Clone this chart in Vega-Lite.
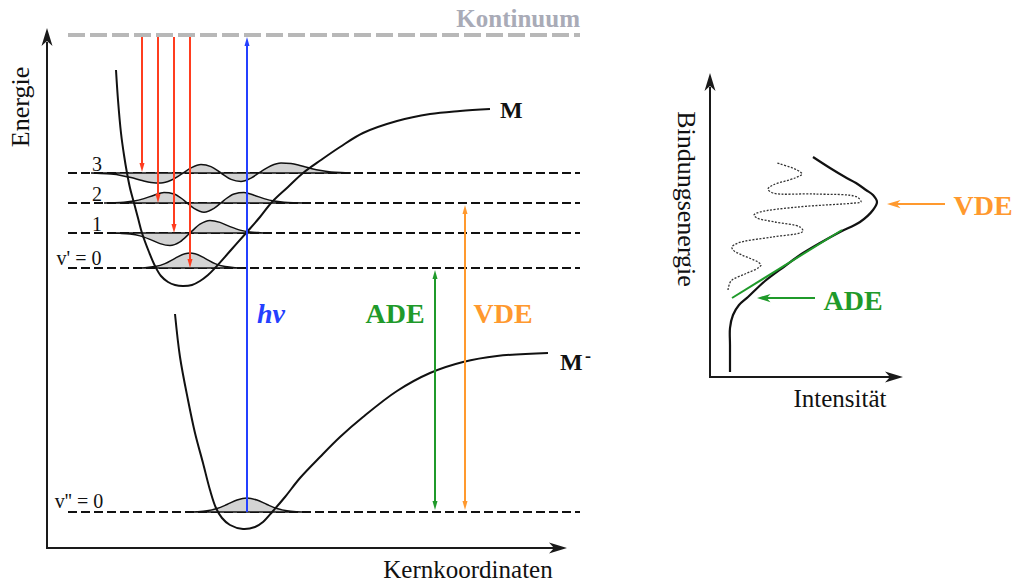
{
"$schema": "https://vega.github.io/schema/vega-lite/v6.json",
"width": 1015, "height": 585, "autosize": {"type": "none"}, "padding": 0,
"background": "white",
"config": {"view": {"stroke": null}},
"datasets": {
"kont": [{"x": 68, "x2": 580, "y": 35}],
"levels": [{"x": 68, "x2": 580, "y": 173}, {"x": 68, "x2": 580, "y": 203}, {"x": 68, "x2": 580, "y": 233}, {"x": 68, "x2": 580, "y": 268}, {"x": 68, "x2": 580, "y": 512}],
"waves": [
{"w":"a0","x":135,"y":268,"y0":268},{"w":"a0","x":145,"y":267.7,"y0":268},{"w":"a0","x":155,"y":266.6,"y0":268},{"w":"a0","x":165,"y":263.6,"y0":268},{"w":"a0","x":175,"y":258.3,"y0":268},{"w":"a0","x":185,"y":253.7,"y0":268},{"w":"a0","x":190,"y":253,"y0":268},{"w":"a0","x":195,"y":253.7,"y0":268},{"w":"a0","x":205,"y":258.3,"y0":268},{"w":"a0","x":215,"y":263.6,"y0":268},{"w":"a0","x":225,"y":266.6,"y0":268},{"w":"a0","x":235,"y":267.7,"y0":268},{"w":"a0","x":245,"y":268,"y0":268},
{"w":"a1","x":110,"y":233,"y0":233},{"w":"a1","x":120,"y":233.3,"y0":233},{"w":"a1","x":130,"y":234,"y0":233},{"w":"a1","x":140,"y":235.9,"y0":233},{"w":"a1","x":150,"y":239.4,"y0":233},{"w":"a1","x":160,"y":243.6,"y0":233},{"w":"a1","x":170,"y":245.5,"y0":233},{"w":"a1","x":180,"y":241.8,"y0":233},{"w":"a1","x":190,"y":233,"y0":233},{"w":"a1","x":200,"y":224.2,"y0":233},{"w":"a1","x":210,"y":220.5,"y0":233},{"w":"a1","x":220,"y":222.4,"y0":233},{"w":"a1","x":230,"y":226.6,"y0":233},{"w":"a1","x":240,"y":230.1,"y0":233},{"w":"a1","x":250,"y":232,"y0":233},{"w":"a1","x":260,"y":232.7,"y0":233},{"w":"a1","x":270,"y":233,"y0":233},
{"w":"a2","x":104,"y":203,"y0":203},{"w":"a2","x":114,"y":202.8,"y0":203},{"w":"a2","x":124,"y":202.3,"y0":203},{"w":"a2","x":134,"y":201.1,"y0":203},{"w":"a2","x":144,"y":198.6,"y0":203},{"w":"a2","x":154,"y":195.2,"y0":203},{"w":"a2","x":164,"y":192.6,"y0":203},{"w":"a2","x":174,"y":193.9,"y0":203},{"w":"a2","x":184,"y":200.3,"y0":203},{"w":"a2","x":194,"y":208.4,"y0":203},{"w":"a2","x":204,"y":212.2,"y0":203},{"w":"a2","x":214,"y":208.4,"y0":203},{"w":"a2","x":224,"y":200.3,"y0":203},{"w":"a2","x":234,"y":193.9,"y0":203},{"w":"a2","x":244,"y":192.6,"y0":203},{"w":"a2","x":254,"y":195.2,"y0":203},{"w":"a2","x":264,"y":198.6,"y0":203},{"w":"a2","x":274,"y":201.1,"y0":203},{"w":"a2","x":284,"y":202.3,"y0":203},{"w":"a2","x":294,"y":202.8,"y0":203},{"w":"a2","x":304,"y":203,"y0":203},
{"w":"a3","x":91,"y":173,"y0":173},{"w":"a3","x":101,"y":173.4,"y0":173},{"w":"a3","x":111,"y":174.1,"y0":173},{"w":"a3","x":121,"y":175.4,"y0":173},{"w":"a3","x":131,"y":177.5,"y0":173},{"w":"a3","x":141,"y":180.2,"y0":173},{"w":"a3","x":151,"y":182.5,"y0":173},{"w":"a3","x":161,"y":183,"y0":173},{"w":"a3","x":171,"y":180.3,"y0":173},{"w":"a3","x":181,"y":174.4,"y0":173},{"w":"a3","x":191,"y":167.9,"y0":173},{"w":"a3","x":201,"y":164.5,"y0":173},{"w":"a3","x":211,"y":166.6,"y0":173},{"w":"a3","x":221,"y":173,"y0":173},{"w":"a3","x":231,"y":179.4,"y0":173},{"w":"a3","x":241,"y":181.5,"y0":173},{"w":"a3","x":251,"y":178.1,"y0":173},{"w":"a3","x":261,"y":171.6,"y0":173},{"w":"a3","x":271,"y":165.7,"y0":173},{"w":"a3","x":281,"y":163,"y0":173},{"w":"a3","x":291,"y":163.5,"y0":173},{"w":"a3","x":301,"y":165.8,"y0":173},{"w":"a3","x":311,"y":168.5,"y0":173},{"w":"a3","x":321,"y":170.6,"y0":173},{"w":"a3","x":331,"y":171.9,"y0":173},{"w":"a3","x":341,"y":172.6,"y0":173},{"w":"a3","x":351,"y":173,"y0":173},
{"w":"b0","x":187,"y":512,"y0":512},{"w":"b0","x":197,"y":511.7,"y0":512},{"w":"b0","x":207,"y":510.8,"y0":512},{"w":"b0","x":217,"y":508.5,"y0":512},{"w":"b0","x":227,"y":504.5,"y0":512},{"w":"b0","x":237,"y":500,"y0":512},{"w":"b0","x":247,"y":498,"y0":512},{"w":"b0","x":257,"y":500,"y0":512},{"w":"b0","x":267,"y":504.5,"y0":512},{"w":"b0","x":277,"y":508.5,"y0":512},{"w":"b0","x":287,"y":510.8,"y0":512},{"w":"b0","x":297,"y":511.7,"y0":512},{"w":"b0","x":307,"y":512,"y0":512}
],
"pot": [
{"c":"M","x":116,"y":70},{"c":"M","x":118,"y":100},{"c":"M","x":121,"y":133},{"c":"M","x":124,"y":155},{"c":"M","x":127,"y":173},{"c":"M","x":130,"y":188},{"c":"M","x":134,"y":203},{"c":"M","x":138,"y":218},{"c":"M","x":142,"y":233},{"c":"M","x":149,"y":252},{"c":"M","x":155,"y":266},{"c":"M","x":161,"y":276},{"c":"M","x":168,"y":282},{"c":"M","x":175,"y":285},{"c":"M","x":183,"y":286},{"c":"M","x":192,"y":285},{"c":"M","x":200,"y":281},{"c":"M","x":208,"y":275},{"c":"M","x":215,"y":268},{"c":"M","x":231,"y":250},{"c":"M","x":247,"y":232},{"c":"M","x":260,"y":217},{"c":"M","x":272,"y":202},{"c":"M","x":288,"y":187},{"c":"M","x":303,"y":173},{"c":"M","x":321,"y":160},{"c":"M","x":340,"y":147},{"c":"M","x":363,"y":133},{"c":"M","x":397,"y":121},{"c":"M","x":430,"y":114},{"c":"M","x":460,"y":111},{"c":"M","x":490,"y":109},
{"c":"Mm","x":175,"y":314},{"c":"Mm","x":180,"y":357},{"c":"Mm","x":188,"y":400},{"c":"Mm","x":195,"y":433},{"c":"Mm","x":203,"y":463},{"c":"Mm","x":210,"y":490},{"c":"Mm","x":216,"y":508},{"c":"Mm","x":222,"y":518},{"c":"Mm","x":230,"y":525},{"c":"Mm","x":243,"y":529},{"c":"Mm","x":255,"y":527},{"c":"Mm","x":263,"y":522},{"c":"Mm","x":273,"y":511},{"c":"Mm","x":285,"y":497},{"c":"Mm","x":300,"y":478},{"c":"Mm","x":320,"y":457},{"c":"Mm","x":340,"y":437},{"c":"Mm","x":363,"y":417},{"c":"Mm","x":397,"y":391},{"c":"Mm","x":430,"y":373},{"c":"Mm","x":463,"y":362},{"c":"Mm","x":497,"y":356},{"c":"Mm","x":548,"y":353}
],
"env": [{"x":730,"y":372},{"x":730,"y":345},{"x":730,"y":328},{"x":733,"y":315},{"x":739,"y":305},{"x":748,"y":297},{"x":765,"y":281},{"x":785,"y":266},{"x":800,"y":255},{"x":820,"y":243},{"x":840,"y":232},{"x":860,"y":222},{"x":873,"y":210},{"x":877,"y":202},{"x":873,"y":195},{"x":866,"y":190},{"x":856,"y":183},{"x":845,"y":177},{"x":830,"y":168},{"x":813,"y":157}],
"dots": [{"x":728,"y":290},{"x":731,"y":281},{"x":745,"y":274},{"x":758,"y":268},{"x":761,"y":265},{"x":758,"y":262},{"x":742,"y":255},{"x":733,"y":250},{"x":732,"y":247},{"x":738,"y":243},{"x":772,"y":237},{"x":800,"y":233},{"x":803,"y":231},{"x":800,"y":227},{"x":775,"y":222},{"x":757,"y":218},{"x":754,"y":215},{"x":760,"y":212},{"x":798,"y":207},{"x":855,"y":203},{"x":861,"y":202},{"x":857,"y":197},{"x":815,"y":194},{"x":773,"y":193},{"x":768,"y":189},{"x":773,"y":185},{"x":795,"y":178},{"x":802,"y":174},{"x":797,"y":170},{"x":777,"y":163}],
"rules": [
{"k":"axis","x":47,"y":549,"x2":47,"y2":42},{"k":"axis","x":46,"y":548,"x2":555,"y2":548},{"k":"axis","x":710,"y":378,"x2":710,"y2":87},{"k":"axis","x":709,"y":377,"x2":891,"y2":377},
{"k":"emission","x":142,"y":37,"x2":142,"y2":166},{"k":"emission","x":158,"y":37,"x2":158,"y2":197},{"k":"emission","x":174,"y":37,"x2":174,"y2":227},{"k":"emission","x":190,"y":37,"x2":190,"y2":262},
{"k":"photon","x":247,"y":512,"x2":247,"y2":43},
{"k":"ade","x":435,"y":276,"x2":435,"y2":504},{"k":"vde","x":465,"y":211,"x2":465,"y2":504},
{"k":"vde","x":945,"y":204,"x2":897,"y2":204},{"k":"ade","x":815,"y":298,"x2":767,"y2":298},
{"k":"ade","x":732,"y":298,"x2":842,"y2":230}
],
"heads": [
{"g":"axisUp","k":"axis","x":47,"y":28},{"g":"axisUp","k":"axis","x":710,"y":73},
{"g":"axisRight","k":"axis","x":567,"y":548},{"g":"axisRight","k":"axis","x":903,"y":377},
{"g":"down","k":"emission","x":142,"y":172},{"g":"down","k":"emission","x":158,"y":203},{"g":"down","k":"emission","x":174,"y":233},{"g":"down","k":"emission","x":190,"y":268},
{"g":"down","k":"ade","x":435,"y":510},{"g":"down","k":"vde","x":465,"y":510},
{"g":"up","k":"photon","x":247,"y":37},{"g":"up","k":"ade","x":435,"y":270},{"g":"up","k":"vde","x":465,"y":205},
{"g":"left","k":"vde","x":887,"y":204},{"g":"left","k":"ade","x":757,"y":298}
],
"labels": [
{"g":"axisH","t":"Kernkoordinaten","x":468,"y":578},{"g":"axisH","t":"Intensität","x":840,"y":407},
{"g":"energie","t":"Energie","x":21,"y":107},{"g":"bind","t":"Bindungsenergie","x":686,"y":199},
{"g":"lvl","t":"3","x":97,"y":171},{"g":"lvl","t":"2","x":97,"y":201},{"g":"lvl","t":"1","x":97,"y":231},{"g":"lvl","t":"v' = 0","x":79,"y":265},{"g":"lvl","t":"v'' = 0","x":79,"y":508},
{"g":"mol","t":"M","x":500,"y":118},{"g":"mol","t":"M","x":560,"y":370},{"g":"sup","t":"-","x":585,"y":362},
{"g":"big","k":"ade","t":"ADE","x":395,"y":323},{"g":"big","k":"vde","t":"VDE","x":503,"y":323},{"g":"big","k":"vde","t":"VDE","x":983,"y":215},{"g":"big","k":"ade","t":"ADE","x":853,"y":310},
{"g":"hv","t":"hv","x":257,"y":323},
{"g":"kont","t":"Kontinuum","x":580,"y":27}
]
},
"encoding": {
"x": {"field": "x", "type": "quantitative", "scale": {"domain": [0, 1015], "nice": false, "zero": false}, "axis": null},
"y": {"field": "y", "type": "quantitative", "scale": {"domain": [0, 585], "reverse": true, "nice": false, "zero": false}, "axis": null}
},
"layer": [
{"data": {"name": "kont"}, "mark": {"type": "rule", "stroke": "#b8b8b8", "strokeWidth": 4, "strokeDash": [17, 5]}, "encoding": {"x2": {"field": "x2"}}},
{"data": {"name": "levels"}, "mark": {"type": "rule", "stroke": "#111111", "strokeWidth": 2, "strokeDash": [9, 4]}, "encoding": {"x2": {"field": "x2"}}},
{"data": {"name": "waves"}, "mark": {"type": "area", "interpolate": "monotone", "fill": "#d3d3d3", "stroke": "#111111", "strokeWidth": 1.5, "opacity": 1}, "encoding": {"y": {"field": "y", "type": "quantitative", "stack": null}, "y2": {"field": "y0"}, "detail": {"field": "w"}}},
{"data": {"name": "pot"}, "mark": {"type": "line", "interpolate": "catmull-rom", "stroke": "#111111", "strokeWidth": 2}, "encoding": {"detail": {"field": "c"}, "order": {"value": null}}},
{"data": {"name": "env"}, "mark": {"type": "line", "interpolate": "catmull-rom", "stroke": "#111111", "strokeWidth": 2.2}, "encoding": {"order": {"value": null}}},
{"data": {"name": "dots"}, "mark": {"type": "line", "interpolate": "catmull-rom", "stroke": "#333333", "strokeWidth": 1.3, "strokeDash": [2, 1.5]}, "encoding": {"order": {"value": null}}},
{"data": {"name": "rules"}, "mark": {"type": "rule", "strokeWidth": 2}, "encoding": {"x2": {"field": "x2"}, "y2": {"field": "y2"}, "color": {"field": "k", "type": "nominal", "scale": {"domain": ["axis", "emission", "photon", "ade", "vde"], "range": ["#1a1a1a", "#ff3d1f", "#2440ff", "#1f9a2a", "#ff992e"]}, "legend": null}}},
{"data": {"name": "heads"}, "transform": [{"filter": "datum.g === 'axisUp'"}], "mark": {"type": "point", "shape": "M0,0L-0.55,1.8L0,1.3L0.55,1.8Z", "filled": true, "size": 400, "opacity": 1, "strokeWidth": 0, "angle": 0}, "encoding": {"color": {"field": "k", "type": "nominal", "scale": {"domain": ["axis", "emission", "photon", "ade", "vde"], "range": ["#1a1a1a", "#ff3d1f", "#2440ff", "#1f9a2a", "#ff992e"]}, "legend": null}}},
{"data": {"name": "heads"}, "transform": [{"filter": "datum.g === 'axisRight'"}], "mark": {"type": "point", "shape": "M0,0L-0.55,1.8L0,1.3L0.55,1.8Z", "filled": true, "size": 400, "opacity": 1, "strokeWidth": 0, "angle": 90}, "encoding": {"color": {"field": "k", "type": "nominal", "scale": {"domain": ["axis", "emission", "photon", "ade", "vde"], "range": ["#1a1a1a", "#ff3d1f", "#2440ff", "#1f9a2a", "#ff992e"]}, "legend": null}}},
{"data": {"name": "heads"}, "transform": [{"filter": "datum.g === 'down'"}], "mark": {"type": "point", "shape": "M0,0L-0.5,1.8L0.5,1.8Z", "filled": true, "size": 100, "opacity": 1, "strokeWidth": 0, "angle": 180}, "encoding": {"color": {"field": "k", "type": "nominal", "scale": {"domain": ["axis", "emission", "photon", "ade", "vde"], "range": ["#1a1a1a", "#ff3d1f", "#2440ff", "#1f9a2a", "#ff992e"]}, "legend": null}}},
{"data": {"name": "heads"}, "transform": [{"filter": "datum.g === 'up'"}], "mark": {"type": "point", "shape": "M0,0L-0.5,1.8L0.5,1.8Z", "filled": true, "size": 100, "opacity": 1, "strokeWidth": 0, "angle": 0}, "encoding": {"color": {"field": "k", "type": "nominal", "scale": {"domain": ["axis", "emission", "photon", "ade", "vde"], "range": ["#1a1a1a", "#ff3d1f", "#2440ff", "#1f9a2a", "#ff992e"]}, "legend": null}}},
{"data": {"name": "heads"}, "transform": [{"filter": "datum.g === 'left'"}], "mark": {"type": "point", "shape": "M0,0L-0.55,1.8L0,1.3L0.55,1.8Z", "filled": true, "size": 225, "opacity": 1, "strokeWidth": 0, "angle": 270}, "encoding": {"color": {"field": "k", "type": "nominal", "scale": {"domain": ["axis", "emission", "photon", "ade", "vde"], "range": ["#1a1a1a", "#ff3d1f", "#2440ff", "#1f9a2a", "#ff992e"]}, "legend": null}}},
{"data": {"name": "labels"}, "transform": [{"filter": "datum.g === 'axisH'"}], "mark": {"type": "text", "font": "Liberation Serif", "fontSize": 25, "align": "center", "baseline": "alphabetic", "color": "#111111"}, "encoding": {"text": {"field": "t"}}},
{"data": {"name": "labels"}, "transform": [{"filter": "datum.g === 'energie'"}], "mark": {"type": "text", "font": "Liberation Serif", "fontSize": 26, "align": "center", "baseline": "middle", "angle": 270, "color": "#111111"}, "encoding": {"text": {"field": "t"}}},
{"data": {"name": "labels"}, "transform": [{"filter": "datum.g === 'bind'"}], "mark": {"type": "text", "font": "Liberation Serif", "fontSize": 26, "align": "center", "baseline": "middle", "angle": 90, "color": "#111111"}, "encoding": {"text": {"field": "t"}}},
{"data": {"name": "labels"}, "transform": [{"filter": "datum.g === 'lvl'"}], "mark": {"type": "text", "font": "Liberation Serif", "fontSize": 20, "align": "center", "baseline": "alphabetic", "color": "#111111"}, "encoding": {"text": {"field": "t"}}},
{"data": {"name": "labels"}, "transform": [{"filter": "datum.g === 'mol'"}], "mark": {"type": "text", "font": "Liberation Serif", "fontSize": 24, "fontWeight": "bold", "align": "left", "baseline": "alphabetic", "color": "#111111"}, "encoding": {"text": {"field": "t"}}},
{"data": {"name": "labels"}, "transform": [{"filter": "datum.g === 'sup'"}], "mark": {"type": "text", "font": "Liberation Serif", "fontSize": 18, "fontWeight": "bold", "align": "left", "baseline": "alphabetic", "color": "#111111"}, "encoding": {"text": {"field": "t"}}},
{"data": {"name": "labels"}, "transform": [{"filter": "datum.g === 'big'"}], "mark": {"type": "text", "font": "Liberation Serif", "fontSize": 28, "fontWeight": "bold", "align": "center", "baseline": "alphabetic"}, "encoding": {"text": {"field": "t"}, "color": {"field": "k", "type": "nominal", "scale": {"domain": ["axis", "emission", "photon", "ade", "vde"], "range": ["#1a1a1a", "#ff3d1f", "#2440ff", "#1f9a2a", "#ff992e"]}, "legend": null}}},
{"data": {"name": "labels"}, "transform": [{"filter": "datum.g === 'hv'"}], "mark": {"type": "text", "font": "Liberation Serif", "fontSize": 28, "fontWeight": "bold", "fontStyle": "italic", "align": "left", "baseline": "alphabetic", "color": "#2440ff"}, "encoding": {"text": {"field": "t"}}},
{"data": {"name": "labels"}, "transform": [{"filter": "datum.g === 'kont'"}], "mark": {"type": "text", "font": "Liberation Serif", "fontSize": 25, "fontWeight": "bold", "align": "right", "baseline": "alphabetic", "color": "#a9abb7"}, "encoding": {"text": {"field": "t"}}}
]
}
